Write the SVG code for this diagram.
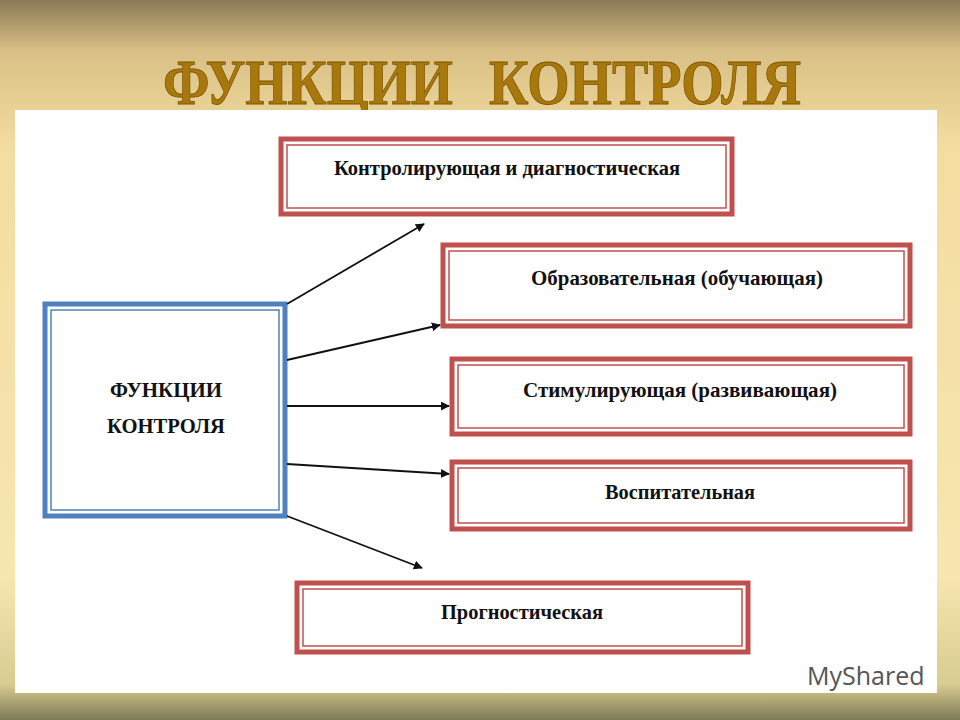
<svg xmlns="http://www.w3.org/2000/svg" width="960" height="720" viewBox="0 0 960 720">
<defs>
<linearGradient id="bg" x1="0" y1="0" x2="0" y2="1">
<stop offset="0" stop-color="#8a7a58"/><stop offset="0.07" stop-color="#d9bf85"/><stop offset="0.2" stop-color="#f3dca0"/><stop offset="0.8" stop-color="#f7e6b0"/><stop offset="0.95" stop-color="#d8cc90"/><stop offset="1" stop-color="#7d7a55"/>
</linearGradient>
<marker id="ah" viewBox="0 0 10 10" refX="9" refY="5" markerWidth="9" markerHeight="9" orient="auto" markerUnits="userSpaceOnUse"><path d="M0,0 L10,5 L0,10 z" fill="#111"/></marker>
<style>
.ro{fill:#fff;stroke:#c0504d;stroke-width:5}
.ri{fill:none;stroke:#c0504d;stroke-width:1.5}
.bo{fill:#fff;stroke:#4f81bd;stroke-width:5}
.bi{fill:none;stroke:#4f81bd;stroke-width:1.5}
.t{font-family:"Liberation Serif","DejaVu Serif",serif;font-weight:bold;font-size:21px;fill:#111;text-anchor:middle}
.c{stroke:#111;stroke-width:1.8;fill:none;marker-end:url(#ah)}
.h{font-family:"Liberation Serif",serif;font-weight:bold;font-size:64px;fill:#a8780c;stroke:#7a5500;stroke-width:0.8}
</style>
</defs>
<rect width="960" height="720" fill="url(#bg)"/>
<text class="h" x="163" y="104" textLength="290" lengthAdjust="spacingAndGlyphs">ФУНКЦИИ</text>
<text class="h" x="489" y="104" textLength="312" lengthAdjust="spacingAndGlyphs">КОНТРОЛЯ</text>
<rect x="15" y="110" width="922" height="583" fill="#fff"/>
<g id="main"><rect class="bo" x="45" y="304" width="240" height="212"/><rect class="bi" x="51" y="310" width="228" height="200"/>
<text class="t" x="166" y="397" textLength="112" lengthAdjust="spacingAndGlyphs">ФУНКЦИИ</text><text class="t" x="166" y="433" textLength="118" lengthAdjust="spacingAndGlyphs">КОНТРОЛЯ</text></g>
<g id="n1"><rect class="ro" x="281" y="139" width="451" height="75"/><rect class="ri" x="287" y="145" width="439" height="63"/><text class="t" x="507" y="175" textLength="346" lengthAdjust="spacingAndGlyphs">Контролирующая и диагностическая</text></g>
<g id="n2"><rect class="ro" x="443" y="245" width="467" height="81"/><rect class="ri" x="449" y="251" width="455" height="69"/><text class="t" x="677" y="285" textLength="292" lengthAdjust="spacingAndGlyphs">Образовательная (обучающая)</text></g>
<g id="n3"><rect class="ro" x="452" y="359" width="458" height="75"/><rect class="ri" x="458" y="365" width="446" height="63"/><text class="t" x="680" y="397" textLength="314" lengthAdjust="spacingAndGlyphs">Стимулирующая (развивающая)</text></g>
<g id="n4"><rect class="ro" x="452" y="462" width="458" height="67"/><rect class="ri" x="458" y="468" width="446" height="55"/><text class="t" x="680" y="499" textLength="150" lengthAdjust="spacingAndGlyphs">Воспитательная</text></g>
<g id="n5"><rect class="ro" x="297" y="583" width="451" height="69"/><rect class="ri" x="303" y="589" width="439" height="57"/><text class="t" x="522" y="619" textLength="162" lengthAdjust="spacingAndGlyphs">Прогностическая</text></g>
<g id="connectors">
<line class="c" x1="287" y1="304" x2="424" y2="224"/>
<line class="c" x1="287" y1="360" x2="440" y2="325"/>
<line class="c" x1="287" y1="406" x2="449" y2="406"/>
<line class="c" x1="287" y1="464" x2="449" y2="474"/>
<line class="c" x1="287" y1="516" x2="422" y2="568"/>
</g>
<text x="807" y="685" font-family="Open Sans,sans-serif" font-size="25" fill="#555">MyShared</text>
</svg>
